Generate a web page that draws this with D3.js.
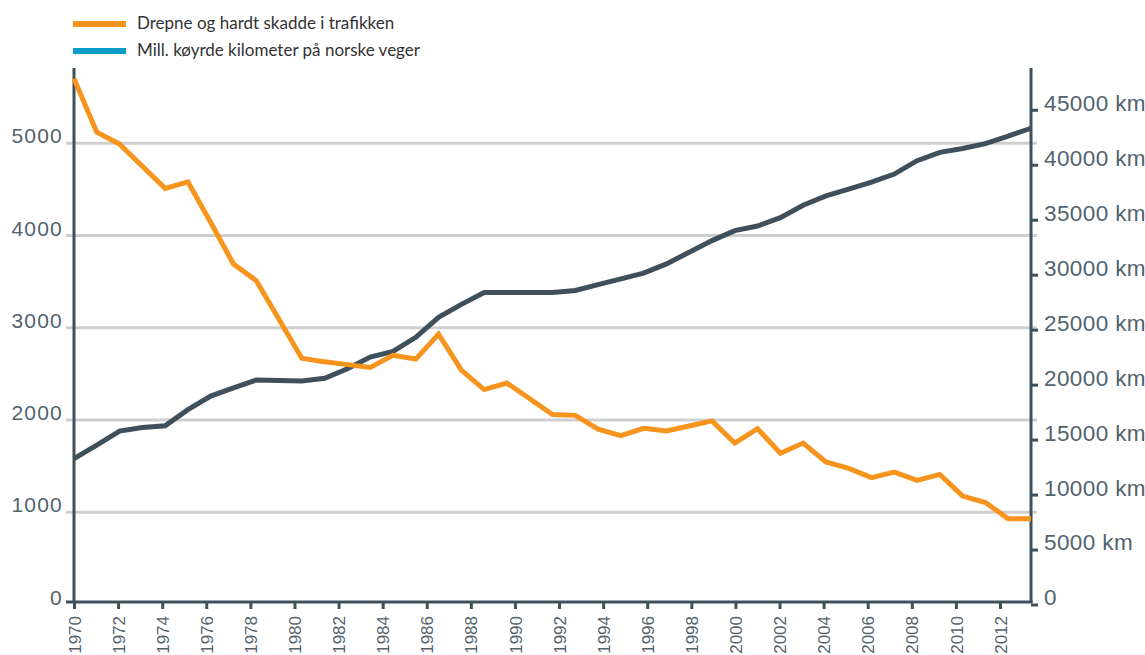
<!DOCTYPE html>
<html>
<head>
<meta charset="utf-8">
<script src="https://cdn.jsdelivr.net/npm/d3@7"></script>
<style>
	body { margin: 0; background: #fff; }
	svg { display: block; font-family: Lato, "Open Sans", sans-serif; }
</style>
</head>
<body>
<svg id="chart" width="1145" height="655"></svg>
<script>
const years = [1970, 1971, 1972, 1973, 1974, 1975, 1976, 1977, 1978, 1979,
	1980, 1981, 1982, 1983, 1984, 1985, 1986, 1987, 1988, 1989,
	1990, 1991, 1992, 1993, 1994, 1995, 1996, 1997, 1998, 1999,
	2000, 2001, 2002, 2003, 2004, 2005, 2006, 2007, 2008, 2009,
	2010, 2011, 2012];

/* Drepne og hardt skadde (left axis) */
const injured = [5700, 5120, 4990, 4750, 4510, 4580, 4140, 3690, 3510, 3090,
	2670, 2630, 2600, 2570, 2700, 2660, 2930, 2540, 2330, 2400,
	2230, 2060, 2050, 1900, 1830, 1910, 1880, 1935, 1990, 1750,
	1905, 1640, 1750, 1545, 1475, 1375, 1435, 1345, 1410, 1175,
	1105, 930, 930];

/* Mill. køyrde kilometer (right axis) */
const kilometres = [13270, 14500, 15770, 16090, 16250, 17720, 18960, 19700, 20430, 20380,
	20330, 20570, 21450, 22510, 23020, 24300, 26120, 27300, 28380, 28380,
	28380, 28380, 28560, 29090, 29620, 30140, 30980, 32040, 33100, 34010,
	34430, 35190, 36320, 37160, 37790, 38420, 39150, 40370, 41130, 41480,
	41920, 42610, 43320];

const yearTicks = [1970, 1972, 1974, 1976, 1978, 1980, 1982, 1984, 1986, 1988, 1990,
	1992, 1994, 1996, 1998, 2000, 2002, 2004, 2006, 2008, 2010, 2012];
const leftTicks = [0, 1000, 2000, 3000, 4000, 5000];
const gridTicks = [1000, 2000, 3000, 4000, 5000];
const rightTicks = [0, 5000, 10000, 15000, 20000, 25000, 30000, 35000, 40000, 45000];

const seriesNames = ['Drepne og hardt skadde i trafikken', 'Mill. køyrde kilometer på norske veger'];
const seriesColours = ['#f7941d', '#0a9cc9'];

const dark = '#3e505c';
const labelColour = '#52636e';

const plotLeft = 74, plotRight = 1031, plotTop = 68, plotBottom = 604.5;

const svg = d3.select('#chart');

const xScale = d3.scaleLinear().domain([1970, 2012]).range([plotLeft, plotRight]);
const xAxisScale = d3.scaleLinear().domain([1970, 2012]).range([plotLeft, 1000]);
const yLeft = d3.scaleLinear().domain([0, 5815]).range([plotBottom, plotTop]);
const yRight = d3.scaleLinear().domain([0, 48800]).range([plotBottom, plotTop]);

/* gridlines */
svg.append('g')
	.selectAll('line')
	.data(gridTicks)
	.join('line')
	.attr('x1', 66)
	.attr('x2', 1037)
	.attr('y1', d => yLeft(d))
	.attr('y2', d => yLeft(d))
	.attr('stroke', '#cfcfcf')
	.attr('stroke-width', 3);

/* left labels */
const leftAxis = svg.append('g')
	.attr('transform', 'translate(63,0)')
	.call(d3.axisLeft(yLeft).tickValues(leftTicks).tickSize(0).tickPadding(0).tickFormat(d3.format('d')));
leftAxis.select('.domain').remove();
leftAxis.selectAll('text')
	.attr('dy', '-0.02em')
	.attr('fill', labelColour)
	.style('font-size', '21px')
	.style('font-weight', 300)
	.style('letter-spacing', '1.2px');

/* right axis */
const rightAxis = svg.append('g')
	.attr('transform', 'translate(' + plotRight + ',0)')
	.call(d3.axisRight(yRight).tickValues(rightTicks).tickSize(7).tickPadding(6)
		.tickFormat(d => d === 0 ? '0' : d + ' km'));
rightAxis.select('.domain').remove();
rightAxis.selectAll('line').attr('stroke', dark).attr('stroke-width', 3);
rightAxis.selectAll('text')
	.attr('dy', '0.02em')
	.attr('fill', labelColour)
	.style('font-size', '22.5px')
	.style('font-weight', 300)
	.style('letter-spacing', '0.4px');

/* bottom axis */
const xAxis = svg.append('g')
	.attr('transform', 'translate(0,602)')
	.call(d3.axisBottom(xAxisScale).tickValues(yearTicks).tickSize(7).tickFormat(d3.format('d')));
xAxis.select('.domain').remove();
xAxis.selectAll('line').attr('stroke', dark).attr('stroke-width', 3);
xAxis.selectAll('text')
	.attr('transform', 'rotate(-90)')
	.attr('text-anchor', 'end')
	.attr('x', -14)
	.attr('y', 0)
	.attr('dy', '0.36em')
	.attr('fill', labelColour)
	.style('font-size', '17px')
	.style('font-weight', 300);

/* axis lines */
svg.append('line')
	.attr('x1', plotLeft).attr('x2', plotLeft).attr('y1', plotTop).attr('y2', 603)
	.attr('stroke', dark).attr('stroke-width', 3);
svg.append('line')
	.attr('x1', plotRight).attr('x2', plotRight).attr('y1', plotTop).attr('y2', 603)
	.attr('stroke', dark).attr('stroke-width', 3);
svg.append('line')
	.attr('x1', 66).attr('x2', plotRight + 1.5).attr('y1', 602).attr('y2', 602)
	.attr('stroke', dark).attr('stroke-width', 3);

/* lines */
const kmLine = d3.line()
	.x((d, i) => xScale(years[i]))
	.y(d => yRight(d));

const injuredLine = d3.line()
	.x((d, i) => xScale(years[i]))
	.y(d => yLeft(d));

svg.append('path')
	.datum(kilometres)
	.attr('d', kmLine)
	.attr('fill', 'none')
	.attr('stroke', dark)
	.attr('stroke-width', 5)
	.attr('stroke-linejoin', 'miter');

svg.append('path')
	.datum(injured)
	.attr('d', injuredLine)
	.attr('fill', 'none')
	.attr('stroke', seriesColours[0])
	.attr('stroke-width', 5)
	.attr('stroke-linejoin', 'miter');

/* legend */
const legend = svg.append('g')
	.selectAll('g')
	.data(seriesNames)
	.join('g')
	.attr('transform', (d, i) => 'translate(73,' + (21 + i * 27) + ')');

legend.append('rect')
	.attr('width', 53)
	.attr('height', 6)
	.attr('fill', (d, i) => seriesColours[i]);

legend.append('text')
	.attr('x', 64)
	.attr('y', 8)
	.attr('fill', '#333')
	.style('font-size', '17px')
	.text(d => d);
</script>
</body>
</html>
